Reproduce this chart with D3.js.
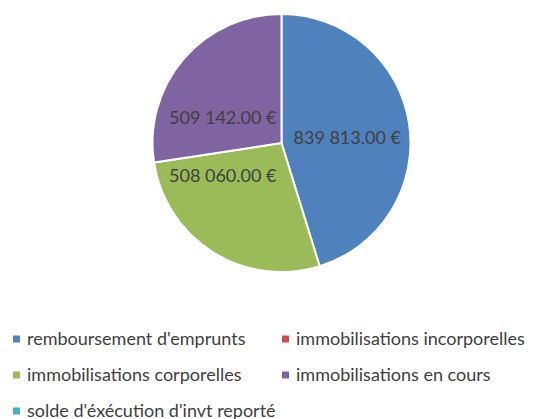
<!DOCTYPE html>
<html>
<head>
<meta charset="utf-8">
<script src="https://cdn.jsdelivr.net/npm/d3@7/dist/d3.min.js"></script>
<style>
  body { margin: 0; background: #fff; }
  svg { display: block; }
</style>
</head>
<body>
<svg id="chart" width="539" height="419"></svg>
<script>
// categories and values
var categories = [
  "remboursement d'emprunts",
  "immobilisations incorporelles",
  "immobilisations corporelles",
  "immobilisations en cours",
  "solde d'éxécution d'invt reporté"
];
var values = [839813, 0, 508060, 509142, 0];
var colors = ["#4F81BD", "#C0504D", "#9BBB59", "#8064A2", "#4BACC6"];

var W = 539, H = 419;
var cx = 281.5, cy = 143, r = 129;
var fontFam = "Lato, 'Open Sans', sans-serif";

var svg = d3.select("#chart");

var data = categories.map(function(c, i) { return { name: c, value: values[i], color: colors[i] }; });

var pie = d3.pie().sort(null).value(function(d) { return d.value; });
var arc = d3.arc().innerRadius(0).outerRadius(r);
var arcs = pie(data);

var g = svg.append("g").attr("transform", "translate(" + cx + "," + cy + ")");

g.selectAll("path")
  .data(arcs.filter(function(d) { return d.data.value > 0; }))
  .enter()
  .append("path")
  .attr("d", arc)
  .attr("fill", function(d) { return d.data.color; })
  .attr("stroke", "#fff")
  .attr("stroke-width", 2);

// value labels, formatted like "839 813.00 €"
function fmt(v) {
  var s = d3.format(",.2f")(v);
  return s.replace(/,/g, " ") + " €";
}

// rough "best fit": centroid, flattened, then kept clear of the vertical split
var labelArc = d3.arc().innerRadius(r * 0.5).outerRadius(r * 0.5);
var labels = g.selectAll("text.val")
  .data(arcs.filter(function(d) { return d.data.value > 0; }))
  .enter()
  .append("text")
  .attr("class", "val")
  .attr("dy", "0.35em")
  .attr("text-anchor", "middle")
  .style("font-family", fontFam)
  .style("font-size", "18px")
  .style("fill", "#404040")
  .text(function(d) { return fmt(d.data.value); });

labels.each(function(d) {
  var c = labelArc.centroid(d);
  var w = this.getComputedTextLength();
  var x = c[0];
  if (x < 0) x = Math.min(x, -w / 2 - 5);
  else x = Math.max(x, w / 2 + 12);
  d3.select(this).attr("x", x).attr("y", c[1] * 0.6);
});

// legend, two columns
var colX = [13, 282];
var rowY = d3.scaleLinear().domain([0, 1]).range([339, 375]);

var leg = svg.selectAll("g.leg")
  .data(data)
  .enter()
  .append("g")
  .attr("class", "leg")
  .attr("transform", function(d, i) {
    return "translate(" + colX[i % 2] + "," + rowY(Math.floor(i / 2)) + ")";
  });

leg.append("rect")
  .attr("x", 0).attr("y", -3.5)
  .attr("width", 7).attr("height", 7)
  .attr("fill", function(d) { return d.color; });

leg.append("text")
  .attr("x", 14)
  .attr("dy", "0.35em")
  .style("font-family", fontFam)
  .style("font-size", "18px")
  .style("fill", "#404040")
  .text(function(d) { return d.name; });
</script>
</body>
</html>
